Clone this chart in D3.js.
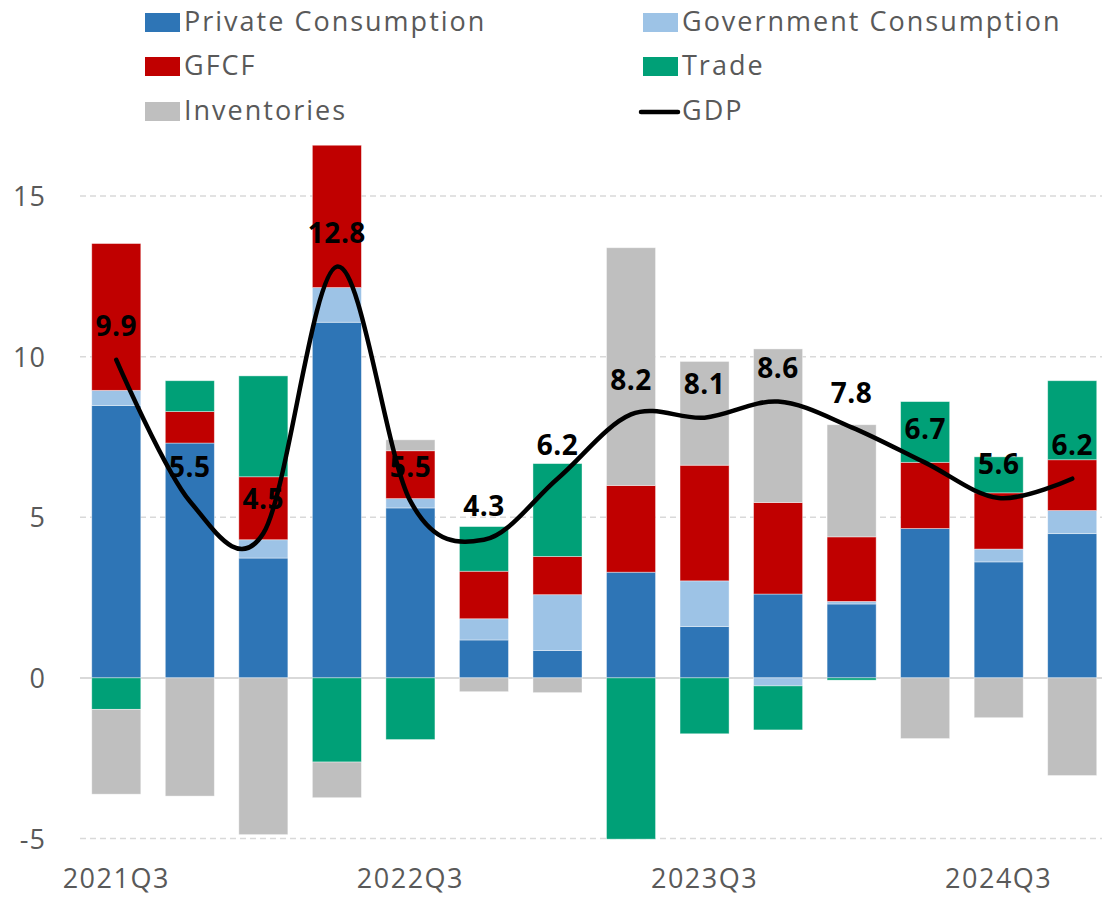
<!DOCTYPE html>
<html>
<head>
<meta charset="utf-8">
<script src="https://cdn.jsdelivr.net/npm/d3@7"></script>
<style>
  html, body { margin: 0; padding: 0; background: #fff; }
  svg { display: block; font-family: "Open Sans", sans-serif; }
</style>
</head>
<body>
<div id="root"></div>
<script>
const svgWidth = 1102;
const svgHeight = 899;

// data
const quarters = ["2021Q3", "2021Q4", "2022Q1", "2022Q2", "2022Q3", "2022Q4", "2023Q1",
                  "2023Q2", "2023Q3", "2023Q4", "2024Q1", "2024Q2", "2024Q3", "2024Q4"];
const privateConsumption = [8.48, 7.31, 3.73, 11.07, 5.29, 1.18, 0.85, 3.29, 1.60, 2.61, 2.30, 4.65, 3.61, 4.49];
const governmentConsumption = [0.47, 0, 0.57, 1.08, 0.29, 0.66, 1.74, 0, 1.42, -0.25, 0.08, 0, 0.40, 0.72];
const gfcf = [4.57, 0.98, 1.96, 4.43, 1.49, 1.48, 1.19, 2.70, 3.60, 2.85, 2.01, 2.06, 1.75, 1.58];
const trade = [-0.98, 0.96, 3.14, -2.62, -1.92, 1.39, 2.89, -5.02, -1.74, -1.37, -0.07, 1.89, 1.12, 2.46];
const inventories = [-2.64, -3.68, -4.88, -1.11, 0.34, -0.43, -0.46, 7.40, 3.23, 4.78, 3.49, -1.89, -1.24, -3.04];
const gdp = [9.9, 5.5, 4.5, 12.8, 5.5, 4.3, 6.2, 8.2, 8.1, 8.6, 7.8, 6.7, 5.6, 6.2];

const yTicks = [-5, 0, 5, 10, 15];
const xTickLabels = ["2021Q3", "2022Q3", "2023Q3", "2024Q3"];

const seriesNames = ["Private Consumption", "Government Consumption", "GFCF", "Trade", "Inventories"];
const seriesValues = [privateConsumption, governmentConsumption, gfcf, trade, inventories];
const colors = ["#2E75B6", "#9DC3E6", "#C00000", "#00A077", "#BFBFBF"];

const rows = quarters.map((q, i) => {
  const row = { quarter: q };
  seriesNames.forEach((name, k) => { row[name] = seriesValues[k][i]; });
  return row;
});

const stacked = d3.stack()
  .keys(seriesNames)
  .offset(d3.stackOffsetDiverging)(rows);

const xScale = d3.scaleBand()
  .domain(quarters)
  .range([79.5, 1109])
  .paddingInner(0.333)
  .paddingOuter(0.1667);

const yScale = d3.scaleLinear()
  .domain([-5, 15])
  .range([838.5, 196]);

const mainSvg = d3.select("#root")
  .append("svg")
  .attr("width", svgWidth)
  .attr("height", svgHeight);

//gridlines
mainSvg.append("g")
  .selectAll("line")
  .data(yTicks)
  .join("line")
  .attr("x1", 80)
  .attr("x2", svgWidth)
  .attr("y1", d => yScale(d))
  .attr("y2", d => yScale(d))
  .attr("stroke", "#d9d9d9")
  .attr("stroke-width", d => d === 0 ? 2 : 1.5)
  .attr("stroke-dasharray", d => d === 0 ? null : "6,4");

//y labels
mainSvg.append("g")
  .selectAll("text")
  .data(yTicks)
  .join("text")
  .attr("x", 46)
  .attr("y", d => yScale(d) + 10)
  .attr("text-anchor", "end")
  .attr("font-size", "27px")
  .attr("letter-spacing", "1px")
  .attr("fill", "#595959")
  .text(d => d < 0 ? "-" + Math.abs(d) : d);

//x labels
mainSvg.append("g")
  .selectAll("text")
  .data(xTickLabels)
  .join("text")
  .attr("x", d => xScale(d) + xScale.bandwidth() / 2)
  .attr("y", 888)
  .attr("text-anchor", "middle")
  .attr("font-size", "27px")
  .attr("letter-spacing", "1.5px")
  .attr("fill", "#595959")
  .text(d => d);

//stacked bars
mainSvg.append("g")
  .selectAll("g")
  .data(stacked)
  .join("g")
  .attr("fill", (d, i) => colors[i])
  .selectAll("rect")
  .data(d => d)
  .join("rect")
  .attr("x", d => xScale(d.data.quarter))
  .attr("width", xScale.bandwidth())
  .attr("y", d => yScale(Math.max(d[0], d[1])))
  .attr("height", d => Math.abs(yScale(d[0]) - yScale(d[1])))
  .attr("stroke", "#fff")
  .attr("stroke-opacity", 0.5)
  .attr("stroke-width", 0.8);

//gdp line
const line = d3.line()
  .x((d, i) => xScale(quarters[i]) + xScale.bandwidth() / 2)
  .y(d => yScale(d))
  .curve(d3.curveCatmullRom.alpha(0));

mainSvg.append("path")
  .datum(gdp)
  .attr("d", line)
  .attr("fill", "none")
  .attr("stroke", "#000")
  .attr("stroke-width", 4.5)
  .attr("stroke-linecap", "round");

//gdp labels
mainSvg.append("g")
  .selectAll("text")
  .data(gdp)
  .join("text")
  .attr("x", (d, i) => xScale(quarters[i]) + xScale.bandwidth() / 2)
  .attr("y", d => yScale(d) - 24)
  .attr("text-anchor", "middle")
  .attr("font-size", "28px")
  .attr("font-weight", "bold")
  .attr("letter-spacing", "0.5px")
  .attr("fill", "#000")
  .text(d => d.toFixed(1));

//legend
const legendItems = [
  { name: "Private Consumption", color: colors[0], x: 145, y: 31 },
  { name: "Government Consumption", color: colors[1], x: 643, y: 31 },
  { name: "GFCF", color: colors[2], x: 145, y: 75 },
  { name: "Trade", color: colors[3], x: 643, y: 75 },
  { name: "Inventories", color: colors[4], x: 145, y: 120 },
  { name: "GDP", color: "#000", x: 643, y: 120, line: true }
];

const legend = mainSvg.append("g")
  .selectAll("g")
  .data(legendItems)
  .join("g");

legend.filter(d => !d.line)
  .append("rect")
  .attr("x", d => d.x)
  .attr("y", d => d.y - 18)
  .attr("width", 35)
  .attr("height", 19)
  .attr("fill", d => d.color);

legend.filter(d => d.line)
  .append("line")
  .attr("x1", d => d.x - 2)
  .attr("x2", d => d.x + 35)
  .attr("y1", d => d.y - 8)
  .attr("y2", d => d.y - 8)
  .attr("stroke", "#000")
  .attr("stroke-width", 4.5)
  .attr("stroke-linecap", "round");

legend.append("text")
  .attr("x", d => d.x + 39)
  .attr("y", d => d.y)
  .attr("font-size", "27px")
  .attr("letter-spacing", "2px")
  .attr("fill", "#595959")
  .text(d => d.name);
</script>
</body>
</html>
